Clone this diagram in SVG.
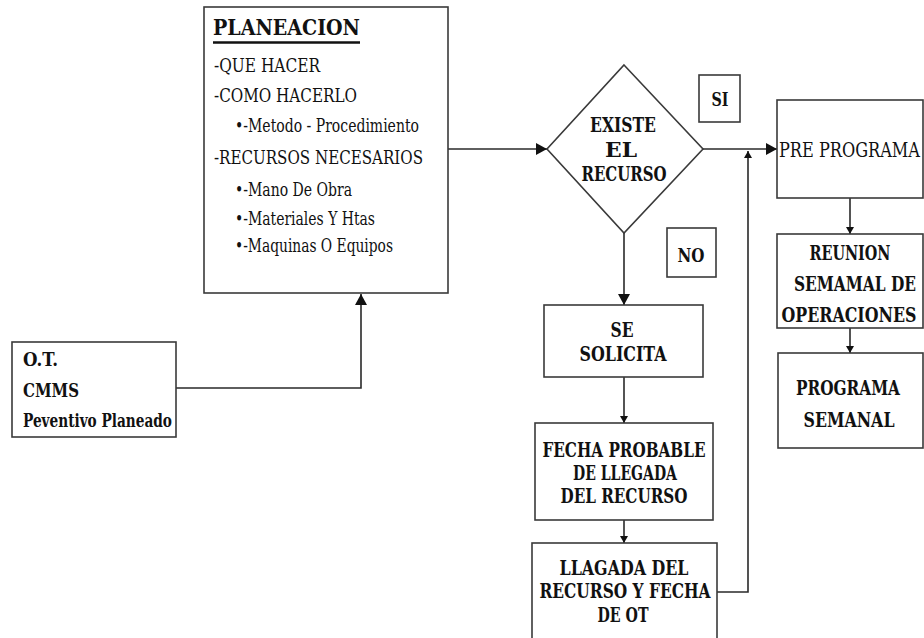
<svg xmlns="http://www.w3.org/2000/svg" width="924" height="638" viewBox="0 0 924 638">
<style>
.box{fill:#fff;stroke:#3a3a3a;stroke-width:1.6}
.t{font-family:"DejaVu Serif Condensed","DejaVu Serif","Liberation Serif","Times New Roman",serif;fill:#111}
.b{font-weight:bold}
.c{text-anchor:middle}
.ln{fill:none;stroke:#2a2a2a;stroke-width:1.6}
</style>
<defs>
<marker id="ah" markerUnits="userSpaceOnUse" markerWidth="12" markerHeight="12" refX="11" refY="6" orient="auto">
<path d="M0,0 L11,6 L0,12 z" fill="#111"/>
</marker>
<marker id="as" markerUnits="userSpaceOnUse" markerWidth="8" markerHeight="8" refX="7" refY="4" orient="auto">
<path d="M0,0 L7,4 L0,8 z" fill="#111"/>
</marker>
</defs>

<g id="connectors">
<path class="ln" d="M176,388 H361 V294" marker-end="url(#ah)"/>
<path class="ln" d="M448,149 H547" marker-end="url(#ah)"/>
<path class="ln" d="M703,149 H777" marker-end="url(#ah)"/>
<path class="ln" d="M624,233 V305" marker-end="url(#ah)"/>
<path class="ln" d="M624,377 V423" marker-end="url(#as)"/>
<path class="ln" d="M624,520 V543" marker-end="url(#as)"/>
<path class="ln" d="M717,592 H748 V151" marker-end="url(#as)"/>
<path class="ln" d="M850,198 V234" marker-end="url(#as)"/>
<path class="ln" d="M850,328 V353" marker-end="url(#as)"/>
</g>

<g id="planeacion">
<rect class="box" x="204" y="7" width="244" height="286"/>
<text class="t b" x="213" y="35" font-size="23" textLength="147" lengthAdjust="spacingAndGlyphs">PLANEACION</text>
<line x1="213" y1="42.5" x2="360" y2="42.5" stroke="#111" stroke-width="2.5"/>
<text class="t" x="214" y="72" font-size="19" textLength="106" lengthAdjust="spacingAndGlyphs">-QUE HACER</text>
<text class="t" x="214" y="102" font-size="19" textLength="143" lengthAdjust="spacingAndGlyphs">-COMO HACERLO</text>
<text class="t" x="235" y="132" font-size="19" textLength="184" lengthAdjust="spacingAndGlyphs">•-Metodo - Procedimiento</text>
<text class="t" x="214" y="164" font-size="19" textLength="209" lengthAdjust="spacingAndGlyphs">-RECURSOS NECESARIOS</text>
<text class="t" x="235" y="196" font-size="19" textLength="117" lengthAdjust="spacingAndGlyphs">•-Mano De Obra</text>
<text class="t" x="235" y="225" font-size="19" textLength="140" lengthAdjust="spacingAndGlyphs">•-Materiales Y Htas</text>
<text class="t" x="235" y="252" font-size="19" textLength="158" lengthAdjust="spacingAndGlyphs">•-Maquinas O Equipos</text>
</g>

<g id="ot">
<rect class="box" x="12" y="342" width="164" height="95"/>
<text class="t b" x="23" y="366" font-size="19" textLength="35" lengthAdjust="spacingAndGlyphs">O.T.</text>
<text class="t b" x="23" y="397" font-size="19" textLength="56" lengthAdjust="spacingAndGlyphs">CMMS</text>
<text class="t b" x="23" y="427" font-size="19" textLength="149" lengthAdjust="spacingAndGlyphs">Peventivo Planeado</text>
</g>

<g id="decision">
<polygon class="box" points="624,65 703,149 624,233 547,149"/>
<text class="t b c" x="623" y="132" font-size="20" textLength="66" lengthAdjust="spacingAndGlyphs">EXISTE</text>
<text class="t b c" x="621" y="157" font-size="20" textLength="32" lengthAdjust="spacingAndGlyphs">EL</text>
<text class="t b c" x="624" y="181" font-size="20" textLength="85" lengthAdjust="spacingAndGlyphs">RECURSO</text>
</g>

<g id="si">
<rect class="box" x="699" y="75" width="41" height="47"/>
<text class="t b c" x="720" y="106" font-size="19" textLength="17" lengthAdjust="spacingAndGlyphs">SI</text>
</g>

<g id="no">
<rect class="box" x="667" y="228" width="49" height="49"/>
<text class="t b c" x="691" y="262" font-size="19" textLength="27" lengthAdjust="spacingAndGlyphs">NO</text>
</g>

<g id="se-solicita">
<rect class="box" x="544" y="305" width="159" height="72"/>
<text class="t b c" x="622" y="337" font-size="21" textLength="23" lengthAdjust="spacingAndGlyphs">SE</text>
<text class="t b c" x="623" y="361" font-size="21" textLength="87" lengthAdjust="spacingAndGlyphs">SOLICITA</text>
</g>

<g id="fecha-probable">
<rect class="box" x="535" y="423" width="178" height="97"/>
<text class="t b c" x="624" y="457" font-size="21" textLength="163" lengthAdjust="spacingAndGlyphs">FECHA PROBABLE</text>
<text class="t b c" x="625" y="480" font-size="21" textLength="104" lengthAdjust="spacingAndGlyphs">DE LLEGADA</text>
<text class="t b c" x="624" y="503" font-size="21" textLength="127" lengthAdjust="spacingAndGlyphs">DEL RECURSO</text>
</g>

<g id="llegada">
<rect class="box" x="532" y="543" width="185" height="110"/>
<text class="t b c" x="624" y="575" font-size="21" textLength="129" lengthAdjust="spacingAndGlyphs">LLAGADA DEL</text>
<text class="t b c" x="625" y="598" font-size="21" textLength="171" lengthAdjust="spacingAndGlyphs">RECURSO Y FECHA</text>
<text class="t b c" x="623" y="622" font-size="21" textLength="51" lengthAdjust="spacingAndGlyphs">DE OT</text>
</g>

<g id="pre-programa">
<rect class="box" x="777" y="100" width="146" height="98"/>
<text class="t" x="779" y="157" font-size="20" textLength="141" lengthAdjust="spacingAndGlyphs">PRE PROGRAMA</text>
</g>

<g id="reunion">
<rect class="box" x="777" y="234" width="146" height="94"/>
<text class="t b c" x="850" y="260" font-size="20" textLength="81" lengthAdjust="spacingAndGlyphs">REUNION</text>
<text class="t b c" x="855" y="291" font-size="20" textLength="122" lengthAdjust="spacingAndGlyphs">SEMAMAL DE</text>
<text class="t b c" x="849" y="322" font-size="20" textLength="135" lengthAdjust="spacingAndGlyphs">OPERACIONES</text>
</g>

<g id="programa-semanal">
<rect class="box" x="778" y="353" width="145" height="95"/>
<text class="t b c" x="848" y="395" font-size="20" textLength="104" lengthAdjust="spacingAndGlyphs">PROGRAMA</text>
<text class="t b c" x="849" y="427" font-size="20" textLength="91" lengthAdjust="spacingAndGlyphs">SEMANAL</text>
</g>
</svg>
